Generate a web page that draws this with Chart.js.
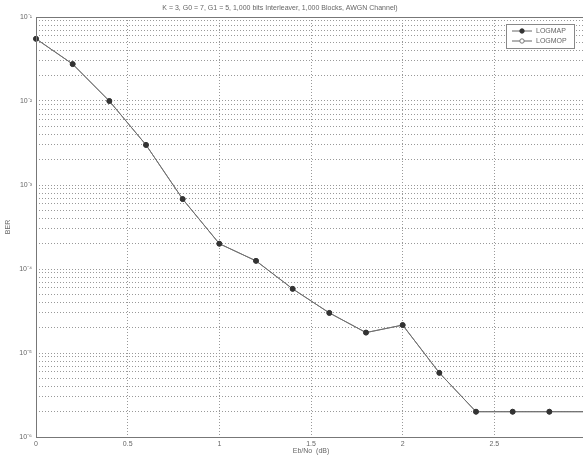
<!DOCTYPE html>
<html lang="en">
<head>
<meta charset="UTF-8">
<title>BER vs Eb/No</title>
<style>
  html, body { margin: 0; padding: 0; overflow: hidden; background: #fff; }
</style>
</head>
<body>
<canvas id="grafico" width="592" height="457"></canvas>

<script src="https://cdn.jsdelivr.net/npm/chart.js"></script>
<script>
// datos
const ebNo = [0, 0.2, 0.4, 0.6, 0.8, 1.0, 1.2, 1.4, 1.6, 1.8, 2.0, 2.2, 2.4, 2.6, 2.8, 3.0];
const berLogmap = [5.5e-2, 2.75e-2, 1.0e-2, 3.0e-3, 6.8e-4, 2.0e-4, 1.25e-4, 5.8e-5, 3.0e-5, 1.75e-5, 2.15e-5, 5.8e-6, 2.0e-6, 2.0e-6, 2.0e-6, 2.0e-6];
const berLogmop = [5.5e-2, 2.75e-2, 1.0e-2, 3.0e-3, 6.8e-4, 2.0e-4, 1.25e-4, 5.8e-5, 3.0e-5, 1.75e-5, 2.15e-5, 5.8e-6, 2.0e-6, 2.0e-6, 2.0e-6, 2.0e-6];
const xTicks = [0, 0.5, 1, 1.5, 2, 2.5, 3];
const yExponents = [-6, -5, -4, -3, -2, -1];
const yMantissas = [1, 2, 3, 4, 5, 6, 7, 8, 9];
const seriesNames = ['LOGMAP', 'LOGMOP'];
const titulo = 'K = 3, G0 = 7, G1 = 5, 1,000 bits Interleaver, 1,000 Blocks, AWGN Channel)';

const fuente = { family: 'Liberation Sans, Arial, sans-serif', size: 7 };
const gris = '#666';

const sup = { '-': '\u207B', '0': '\u2070', '1': '\u00B9', '2': '\u00B2', '3': '\u00B3', '4': '\u2074', '5': '\u2075', '6': '\u2076', '7': '\u2077', '8': '\u2078', '9': '\u2079' };
const potencia = (e) => '10' + String(e).split('').map(c => sup[c]).join('');

// grid del eje y (decadas con sus menores)
let yGrid = [];
yExponents.forEach((e, i) => {
    if (i === yExponents.length - 1) { yGrid.push(Math.pow(10, e)); return; }
    yMantissas.forEach(m => yGrid.push(m * Math.pow(10, e)));
});

const decoracion = {
    id: 'decoracion',
    afterDraw(chart) {
        const ctx = chart.ctx;
        const a = chart.chartArea;
        ctx.save();
        // marco
        ctx.strokeStyle = '#777';
        ctx.lineWidth = 1;
        ctx.strokeRect(a.left + 0.5, a.top + 0.5, a.right - a.left - 1, a.bottom - a.top);
        // titulo
        ctx.fillStyle = gris;
        ctx.font = '7px ' + fuente.family;
        ctx.textAlign = 'center';
        ctx.textBaseline = 'middle';
        ctx.fillText(titulo, 280, 8);
        // leyenda
        const lx = 506, ly = 24, lw = 68, lh = 24;
        ctx.fillStyle = '#fff';
        ctx.fillRect(lx, ly, lw, lh);
        ctx.strokeStyle = '#888';
        ctx.strokeRect(lx + 0.5, ly + 0.5, lw, lh);
        seriesNames.forEach((nombre, i) => {
            const y = ly + 7 + i * 10;
            ctx.strokeStyle = '#666';
            ctx.beginPath();
            ctx.moveTo(lx + 6, y);
            ctx.lineTo(lx + 26, y);
            ctx.stroke();
            ctx.beginPath();
            ctx.arc(lx + 16, y, 2.2, 0, Math.PI * 2);
            ctx.fillStyle = i === 0 ? '#333' : '#fff';
            ctx.fill();
            ctx.strokeStyle = i === 0 ? '#333' : '#777';
            ctx.stroke();
            ctx.fillStyle = gris;
            ctx.textAlign = 'left';
            ctx.fillText(nombre, lx + 30, y);
        });
        ctx.restore();
    }
};

new Chart(document.querySelector('#grafico'), {
    type: 'line',
    data: {
        datasets: [{
            label: seriesNames[0],
            data: ebNo.map((x, i) => ({ x: x, y: berLogmap[i] })),
            borderColor: '#707070',
            borderWidth: 1,
            pointRadius: 2.5,
            pointBackgroundColor: '#333',
            pointBorderColor: '#333',
            clip: false
        }, {
            label: seriesNames[1],
            data: ebNo.map((x, i) => ({ x: x, y: berLogmop[i] })),
            borderColor: '#777',
            borderWidth: 1,
            pointRadius: 2.3,
            pointBackgroundColor: '#fff',
            pointBorderColor: '#777',
            clip: false
        }]
    },
    options: {
        responsive: false,
        animation: false,
        layout: { padding: { top: 17, right: 6, left: 0, bottom: 0 } },
        plugins: { legend: { display: false }, title: { display: false }, tooltip: { enabled: false } },
        elements: { line: { tension: 0 } },
        scales: {
            x: {
                type: 'linear',
                min: 0,
                max: 3,
                afterBuildTicks: (s) => { s.ticks = xTicks.map(v => ({ value: v })); },
                afterFit: (s) => { s.height = 20; },
                grid: { color: '#999', lineWidth: 1, drawTicks: false },
                border: { display: false, dash: [1, 2] },
                ticks: { font: fuente, color: gris, padding: 3, maxRotation: 0, autoSkip: false,
                    callback: (v) => String(v) },
                title: { display: true, text: 'Eb/No  (dB)', font: fuente, color: gris, padding: { top: 0, bottom: 2 } }
            },
            y: {
                type: 'logarithmic',
                min: 1e-6,
                max: 1e-1,
                afterBuildTicks: (s) => { s.ticks = yGrid.map(v => ({ value: v })); },
                afterFit: (s) => { s.width = 36; },
                grid: { color: '#999', lineWidth: 1, drawTicks: false },
                border: { display: false, dash: [1, 2] },
                ticks: {
                    font: fuente, color: gris, padding: 4, autoSkip: false,
                    callback: (v) => {
                        const e = Math.log10(v);
                        return Math.abs(e - Math.round(e)) < 1e-6 ? potencia(Math.round(e)) : '';
                    }
                },
                title: { display: true, text: 'BER', font: fuente, color: gris, padding: 4 }
            }
        }
    },
    plugins: [decoracion]
});
</script>
</body>
</html>
